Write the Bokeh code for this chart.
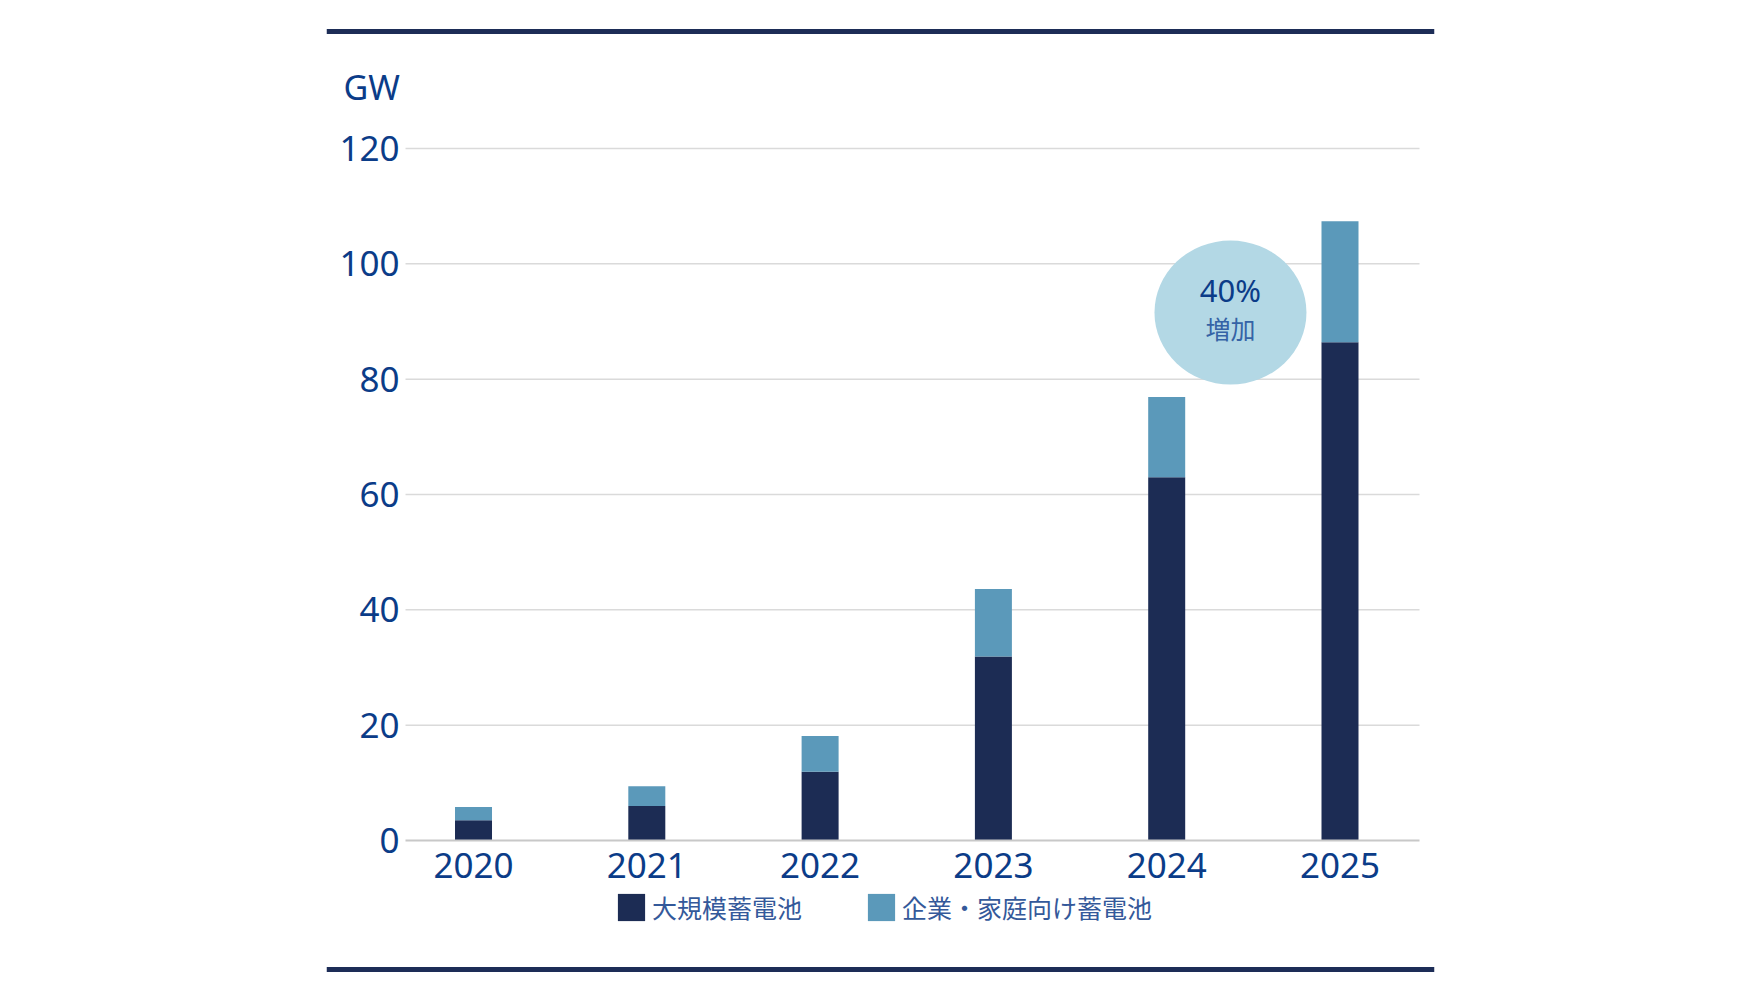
from bokeh.plotting import figure
from bokeh.models import ColumnDataSource, FixedTicker, Label, BoxAnnotation, Legend
from bokeh.core.properties import value
from bokeh.embed import file_html
from bokeh.resources import INLINE

years = ["2020", "2021", "2022", "2023", "2024", "2025"]
utility = [3.5, 6.0, 11.9, 31.9, 63.0, 86.4]          # 大規模蓄電池
behind_meter = [2.3, 3.4, 6.2, 11.7, 13.9, 21.0]      # 企業・家庭向け蓄電池
y_ticks = [0, 20, 40, 60, 80, 100, 120]
series_names = ["大規模蓄電池", "企業・家庭向け蓄電池"]
series_colors = ["#1c2c54", "#5b99ba"]

TEXT_BLUE = "#0b3c88"
LEGEND_BLUE = "#34599a"
RULE = "#1d2d57"

# plotting area (data units) inside a wider frame that also holds rules and legend
X_LO, X_HI = -0.3924, 5.4588
Y_LO, Y_HI = 0, 120

xs = list(range(len(years)))
source = ColumnDataSource(dict(x=xs, utility=utility, behind_meter=behind_meter))

p = figure(width=1724, height=980, output_backend="svg", toolbar_location=None,
           x_range=(-0.8483, 5.5453), y_range=(-23.41, 142.19),
           min_border_left=326, min_border_right=290,
           min_border_top=20, min_border_bottom=5)
p.outline_line_color = None
p.xgrid.visible = False
p.ygrid.visible = False

# horizontal gridlines across the plotting area only
grid_y = [t for t in y_ticks if t > Y_LO]
p.segment(x0=[X_LO] * len(grid_y), x1=[X_HI] * len(grid_y), y0=grid_y, y1=grid_y,
          line_color="#dadada", line_width=1.5)

rs = p.vbar_stack(["utility", "behind_meter"], x="x", width=0.2135, source=source,
                  color=series_colors, line_color=None)

# axes, fixed inside the frame
p.xaxis.fixed_location = Y_LO
p.xaxis.bounds = (X_LO, X_HI)
p.xaxis.ticker = FixedTicker(ticks=xs)
p.xaxis.major_label_overrides = {i: y for i, y in zip(xs, years)}
p.xaxis.major_tick_line_color = None
p.xaxis.minor_tick_line_color = None
p.xaxis.axis_line_color = "#c8c8c8"
p.xaxis.axis_line_width = 2
p.xaxis.major_label_text_font = "Noto Sans"
p.xaxis.major_label_text_font_size = "35px"
p.xaxis.major_label_text_color = TEXT_BLUE
p.xaxis.major_label_standoff = 7

p.yaxis.fixed_location = X_LO
p.yaxis.bounds = (Y_LO, Y_HI)
p.yaxis.ticker = FixedTicker(ticks=y_ticks)
p.yaxis.major_tick_line_color = None
p.yaxis.minor_tick_line_color = None
p.yaxis.axis_line_color = None
p.yaxis.major_label_text_font = "Noto Sans"
p.yaxis.major_label_text_font_size = "35px"
p.yaxis.major_label_text_color = TEXT_BLUE
p.yaxis.major_label_standoff = 0

# unit label
p.add_layout(Label(x=-0.750, y=130.7, text="GW", text_font="Noto Sans", text_font_size="34px",
                   text_color=TEXT_BLUE, text_baseline="middle", text_align="left"))

# top and bottom rules (span full frame width)
p.add_layout(BoxAnnotation(bottom=139.85, top=140.71, fill_color=RULE, fill_alpha=1, line_alpha=0))
p.add_layout(BoxAnnotation(bottom=-22.80, top=-21.93, fill_color=RULE, fill_alpha=1, line_alpha=0))

# growth bubble
p.ellipse(x=4.368, y=91.55, width=152, height=144, width_units="screen", height_units="screen",
          fill_color="#b3d8e5", line_color=None)
p.text(x=[4.368], y=[95.5], text=["40%"], text_font=value("Noto Sans"), text_font_size="31px",
       text_color=TEXT_BLUE, text_align="center", text_baseline="middle")
p.text(x=[4.368], y=[88.8], text=["増加"], text_font=value("Noto Sans CJK JP"), text_font_size="25px",
       text_color="#3563a6", text_align="center", text_baseline="middle")

# legend
lg = Legend(items=[(name, [r]) for name, r in zip(series_names, rs)],
            location=(288, 50), orientation="horizontal",
            border_line_color=None, background_fill_alpha=0,
            padding=0, margin=0, spacing=62,
            glyph_width=34, glyph_height=34, label_standoff=4,
            label_text_font="Noto Sans CJK JP", label_text_font_size="25px",
            label_text_color=LEGEND_BLUE, label_height=34)
p.add_layout(lg, "center")

open("out.html", "w").write(file_html(p, INLINE))
